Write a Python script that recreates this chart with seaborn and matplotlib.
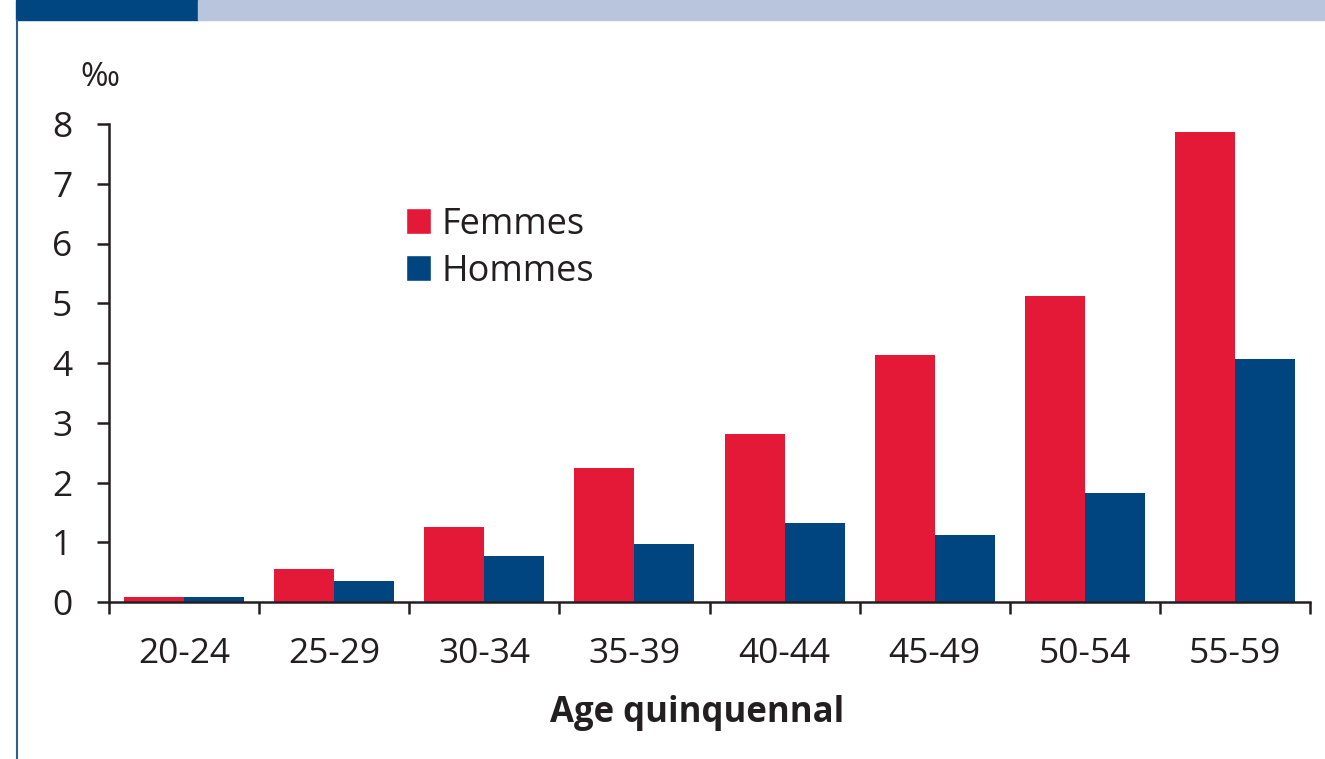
import numpy as np
import pandas as pd
import matplotlib
matplotlib.use("Agg")
import matplotlib.pyplot as plt
from matplotlib.patches import Rectangle, Patch
from matplotlib.lines import Line2D
import seaborn as sns

# data (per mille)
ages = ["20-24", "25-29", "30-34", "35-39", "40-44", "45-49", "50-54", "55-59"]
femmes = [0.08, 0.55, 1.25, 2.24, 2.81, 4.13, 5.12, 7.87]
hommes = [0.08, 0.35, 0.77, 0.97, 1.32, 1.12, 1.82, 4.07]

RED = "#E31937"
BLUE = "#00457F"
TXT = "#231F20"

df = pd.DataFrame({
    "age": ages * 2,
    "val": femmes + hommes,
    "sexe": ["Femmes"] * len(ages) + ["Hommes"] * len(ages),
})

sns.set_style("white")
plt.rcParams["font.family"] = ["Open Sans", "DejaVu Sans"]

W, H = 1325, 759
fig = plt.figure(figsize=(W / 100, H / 100), dpi=100)
ax = fig.add_axes([109 / W, 1 - 602 / H, (1310 - 109) / W, (602 - 124) / H])

sns.barplot(data=df, x="age", y="val", hue="sexe", order=ages,
            palette={"Femmes": RED, "Hommes": BLUE}, width=0.8,
            saturation=1, linewidth=0, ax=ax, legend=False)

ax.set_xlim(-0.5, 7.5)
ax.set_ylim(0, 8)
ax.set_yticks(range(9))
ax.set_xticks(range(len(ages)))
ax.set_xticklabels(ages)
ax.set_xticks(np.arange(-0.5, 8, 1), minor=True)
for s in ["top", "right"]:
    ax.spines[s].set_visible(False)
for s in ["left", "bottom"]:
    ax.spines[s].set_linewidth(1.8)
    ax.spines[s].set_color(TXT)
ax.tick_params(axis="y", direction="out", length=8.5, width=1.8, color=TXT,
               labelsize=25.5, labelcolor=TXT, pad=18, left=True)
ax.tick_params(axis="x", which="major", length=0, labelsize=25.5,
               labelcolor=TXT, pad=25)
ax.tick_params(axis="x", which="minor", direction="out", length=8.5,
               width=1.8, color=TXT, bottom=True)
ax.set_ylabel("")
ax.set_xlabel("Age quinquennal", fontsize=25, fontweight="bold",
              color=TXT)
ax.xaxis.set_label_coords(0.49, -0.195)

handles = [Patch(facecolor=RED, label="Femmes"),
           Patch(facecolor=BLUE, label="Hommes")]
ax.legend(handles=handles, loc="upper left", bbox_to_anchor=(0.22, 0.895),
          frameon=False, fontsize=26, handlelength=0.7, handleheight=0.7,
          handletextpad=0.3, labelspacing=0.3, labelcolor=TXT)

fig.text(100 / W, 1 - 77 / H, "‰", fontsize=24, color=TXT,
         ha="center", va="center")

# header band and left rule
fig.patches.append(Rectangle((16 / W, 1 - 20 / H), (198 - 16) / W, 20 / H,
                             transform=fig.transFigure, color="#004680",
                             zorder=0))
fig.patches.append(Rectangle((198 / W, 1 - 20 / H), (W - 198) / W, 20 / H,
                             transform=fig.transFigure, color="#B8C5DD",
                             zorder=0))
fig.lines.append(Line2D([17 / W, 17 / W], [0, 1 - 20 / H],
                        transform=fig.transFigure, color="#2E5E8E", lw=1.5))

fig.savefig("out.png", dpi=100)
